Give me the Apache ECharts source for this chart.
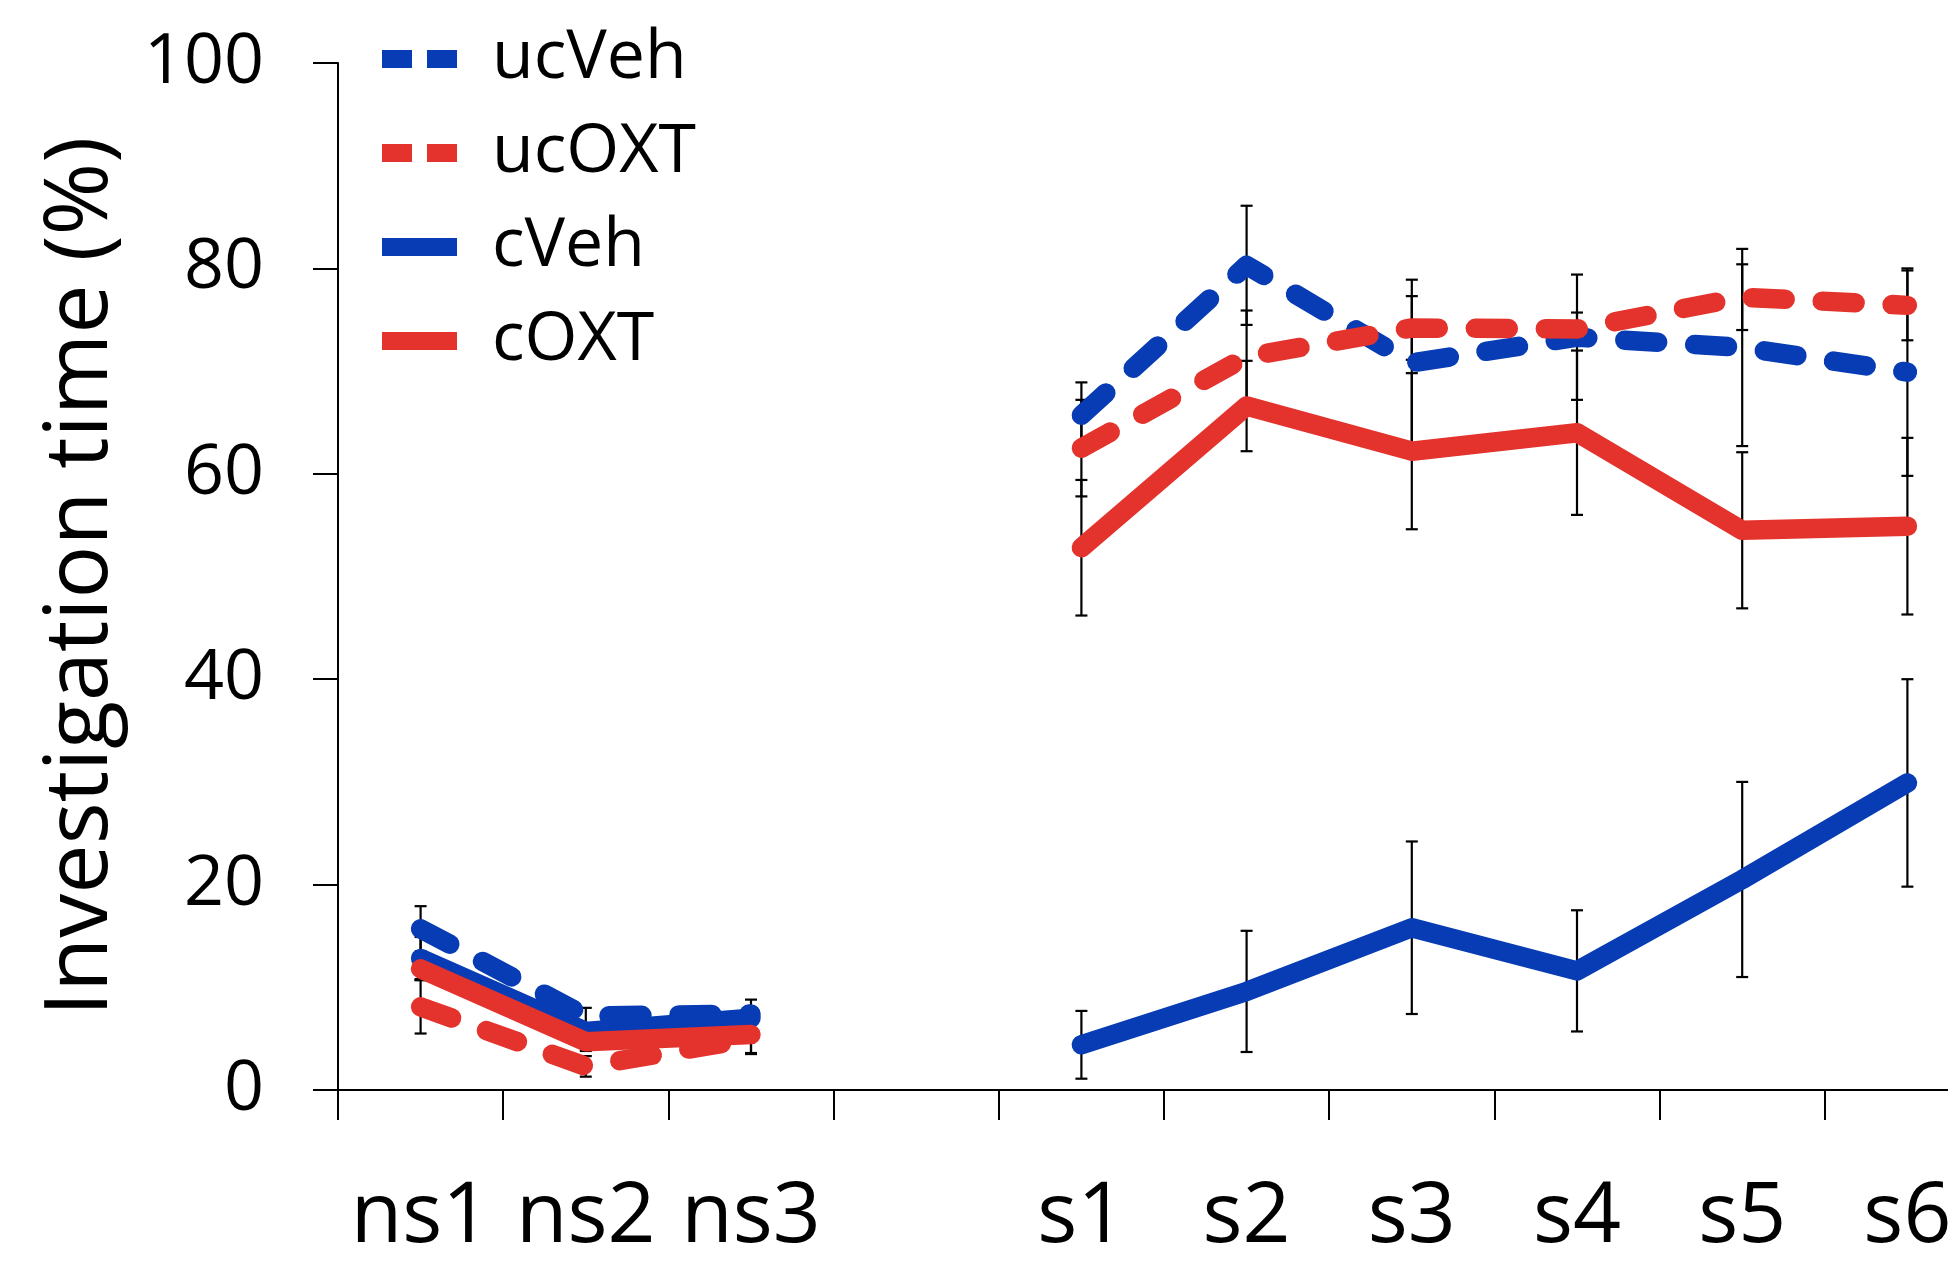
<!DOCTYPE html>
<html>
<head>
<meta charset="utf-8">
<script src="https://cdn.jsdelivr.net/npm/echarts@6/dist/echarts.min.js"></script>
<style>
html,body{margin:0;padding:0;background:#fff;overflow:hidden;}
#chart{width:2000px;height:1267px;}
</style>
</head>
<body>
<div id="chart"></div>
<script>
const categories = ['ns1','ns2','ns3','','s1','s2','s3','s4','s5','s6'];
const yTicks = [0, 20, 40, 60, 80, 100];

const ucVeh    = [15.7, 7.2, 7.4, null, 65.7, 80.3, 70.8, 73.3, 72.3, 69.9];
const ucVehErr = [2.2, 0.8, 1.4, null, 3.2, 5.8, 8.1, 6.1, 9.6, 10.1];
const ucOXT    = [8.1, 2.3, 5.0, null, 62.5, 71.4, 74.2, 74.1, 77.2, 76.4];
const ucOXTErr = [2.6, 1.0, 1.5, null, 4.7, 4.5, 3.1, 1.6, 3.2, 3.4];
const cVeh     = [12.8, 5.7, 7.0, null, 4.4, 9.6, 15.8, 11.6, 20.5, 29.9];
const cVehErr  = [2.1, 0.8, 1.0, null, 3.3, 5.9, 8.4, 5.9, 9.5, 10.1];
const cOXT     = [11.8, 4.7, 5.4, null, 52.8, 66.6, 62.2, 64.0, 54.5, 54.9];
const cOXTErr  = [1.0, 0.9, 1.8, null, 6.6, 4.4, 7.6, 8.0, 7.6, 8.6];

const BLUE = '#073CB4';
const RED = '#E3332C';
const FONT = 'Open Sans';

const groups = [
  {name: 'ucVeh', vals: ucVeh, err: ucVehErr, color: BLUE, dashed: true},
  {name: 'ucOXT', vals: ucOXT, err: ucOXTErr, color: RED, dashed: true},
  {name: 'cVeh', vals: cVeh, err: cVehErr, color: BLUE, dashed: false},
  {name: 'cOXT', vals: cOXT, err: cOXTErr, color: RED, dashed: false}
];

function errData(vals, err) {
  const out = [];
  vals.forEach((v, i) => {
    if (v !== null && err[i] !== null) out.push([i, v - err[i], v + err[i]]);
  });
  return out;
}

const series = [];
groups.forEach(g => {
  series.push({
    type: 'custom',
    name: g.name + ' err',
    z: 1,
    silent: true,
    data: errData(g.vals, g.err),
    renderItem: function (params, api) {
      const lo = api.coord([api.value(0), api.value(1)]);
      const hi = api.coord([api.value(0), api.value(2)]);
      const hw = 6;
      const st = {stroke: '#000', lineWidth: 2.2};
      return {
        type: 'group',
        children: [
          {type: 'line', shape: {x1: lo[0], y1: lo[1], x2: hi[0], y2: hi[1]}, style: st},
          {type: 'line', shape: {x1: lo[0] - hw, y1: lo[1], x2: lo[0] + hw, y2: lo[1]}, style: st},
          {type: 'line', shape: {x1: hi[0] - hw, y1: hi[1], x2: hi[0] + hw, y2: hi[1]}, style: st}
        ]
      };
    }
  });
});
groups.forEach(g => {
  series.push({
    type: 'line',
    name: g.name,
    z: 3,
    data: g.vals,
    symbol: 'none',
    connectNulls: false,
    color: g.color,
    lineStyle: {
      color: g.color,
      width: 19.5,
      type: g.dashed ? [33, 37] : 'solid',
      cap: 'round',
      join: 'round'
    },
    emphasis: {disabled: true}
  });
});

const chart = echarts.init(document.getElementById('chart'), null, {renderer: 'canvas'});
chart.setOption({
  animation: false,
  backgroundColor: '#fff',
  textStyle: {fontFamily: FONT, color: '#000'},
  grid: {left: 338, top: 63, width: 1652, height: 1027, containLabel: false},
  legend: {
    orient: 'vertical',
    left: 368,
    top: 20,
    itemWidth: 75,
    itemHeight: 18,
    itemGap: 26,
    selectedMode: false,
    textStyle: {fontFamily: FONT, fontSize: 68, color: '#000', padding: [0, 0, 0, 30]},
    data: groups.map(g => ({
      name: g.name,
      itemStyle: {opacity: 0},
      lineStyle: {color: g.color, width: 18, type: g.dashed ? [30, 15] : 'solid', cap: 'butt', opacity: 1}
    }))
  },
  xAxis: {
    type: 'category',
    data: categories,
    boundaryGap: true,
    axisLine: {show: true, lineStyle: {color: '#000', width: 2}},
    axisTick: {show: true, length: 30, inside: false, alignWithLabel: false, interval: 0, lineStyle: {color: '#000', width: 2}},
    axisLabel: {fontFamily: FONT, fontSize: 84, color: '#000', margin: 86, interval: 0},
    splitLine: {show: false}
  },
  yAxis: {
    type: 'value',
    min: yTicks[0],
    max: yTicks[yTicks.length - 1],
    interval: yTicks[1] - yTicks[0],
    name: 'Investigation time (%)',
    nameLocation: 'middle',
    nameGap: 212,
    nameTextStyle: {fontFamily: FONT, fontSize: 88, color: '#000'},
    axisLine: {show: true, lineStyle: {color: '#000', width: 2}},
    axisTick: {show: true, length: 25, inside: false, lineStyle: {color: '#000', width: 2}},
    axisLabel: {fontFamily: FONT, fontSize: 70, color: '#000', margin: 74},
    splitLine: {show: false}
  },
  series: series
});
</script>
</body>
</html>
